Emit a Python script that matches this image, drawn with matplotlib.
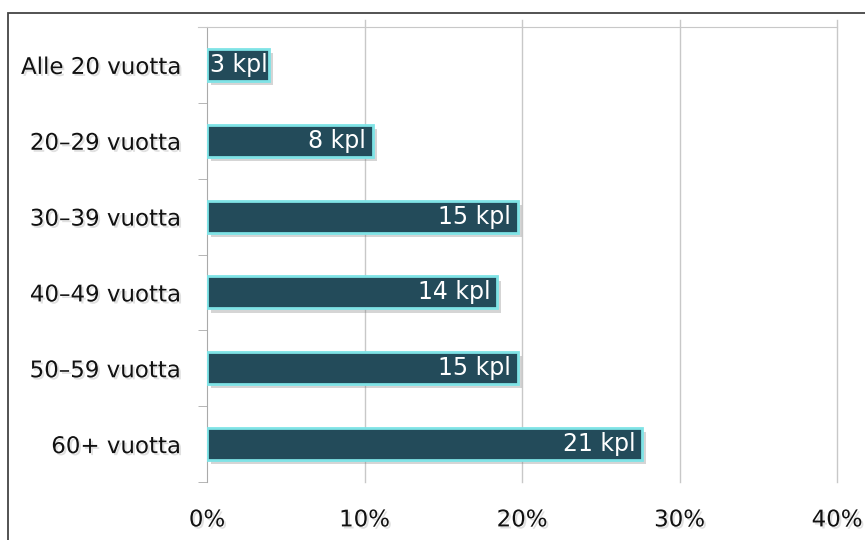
import matplotlib
matplotlib.use('Agg')
import matplotlib.pyplot as plt
import matplotlib.patheffects as pe
from matplotlib.patches import Rectangle
from matplotlib.ticker import FixedLocator

# Chart data
categories = ['Alle 20 vuotta', '20–29 vuotta', '30–39 vuotta',
              '40–49 vuotta', '50–59 vuotta', '60+ vuotta']
counts = [3, 8, 15, 14, 15, 21]
x_ticks = [0, 10, 20, 30, 40]
x_tick_labels = ['0%', '10%', '20%', '30%', '40%']

total = sum(counts)
percents = [c / total * 100 for c in counts]

bar_color = '#234b5a'
glow_color = '#7fe3e6'
grid_color = '#c8c8c8'

fig = plt.figure(figsize=(8.65, 5.4), dpi=100)
fig.patch.set_facecolor('white')

# outer frame (only top and left visible in the reference)
frame = Rectangle((8 / 865, -0.1), 1.2, 1 - 13 / 540 + 0.1, transform=fig.transFigure,
                  fill=False, edgecolor='#444444', linewidth=1.3)
fig.patches.append(frame)

ax = fig.add_axes([207 / 865, 58 / 540, 630 / 865, 455 / 540])

y_pos = list(range(len(categories)))
bars = ax.barh(y_pos, percents, height=0.42, color=bar_color,
               edgecolor=glow_color, linewidth=2.0, zorder=3)
for b in bars:
    b.set_path_effects([pe.SimplePatchShadow(offset=(3, -3), shadow_rgbFace='#777777', alpha=0.3),
                        pe.Normal()])

ax.set_xlim(0, 40)
ax.set_ylim(len(categories) - 0.5, -0.5)

# gridlines, a bit taller than the axes
for xv in x_ticks[1:]:
    ax.plot([xv, xv], [0, 1 + 7 / 455], transform=ax.get_xaxis_transform(),
            color=grid_color, lw=1, clip_on=False, zorder=1)

ax.spines['right'].set_visible(False)
ax.spines['bottom'].set_visible(False)
ax.spines['top'].set_color(grid_color)
ax.spines['left'].set_color('#aaaaaa')
ax.spines['top'].set_bounds(-0.6, 40)

text_shadow = [pe.SimplePatchShadow(offset=(1.5, -1.5), shadow_rgbFace='#999999', alpha=0.3),
               pe.Normal()]

ax.set_xticks(x_ticks)
ax.set_xticklabels(x_tick_labels, fontsize=16.5, color='#111111')
ax.tick_params(axis='x', length=0, pad=19)

ax.set_yticks(y_pos)
ax.set_yticklabels(categories, fontsize=16.5, color='#111111')
ax.tick_params(axis='y', which='major', length=0, pad=19)
ax.yaxis.set_minor_locator(FixedLocator([p + 0.5 for p in range(-1, len(categories))]))
ax.tick_params(axis='y', which='minor', length=6.5, color='#aaaaaa')

for lab in ax.get_xticklabels() + ax.get_yticklabels():
    lab.set_path_effects(text_shadow)

for i, (p, c) in enumerate(zip(percents, counts)):
    if p < 5:
        ax.annotate(f'{c} kpl', xy=(0, i), xytext=(2, 0), textcoords='offset points',
                    ha='left', va='center', color='white', fontsize=17, zorder=4)
    else:
        ax.annotate(f'{c} kpl', xy=(p, i), xytext=(-5, 0), textcoords='offset points',
                    ha='right', va='center', color='white', fontsize=17, zorder=4)

fig.savefig('out.png', dpi=100)
